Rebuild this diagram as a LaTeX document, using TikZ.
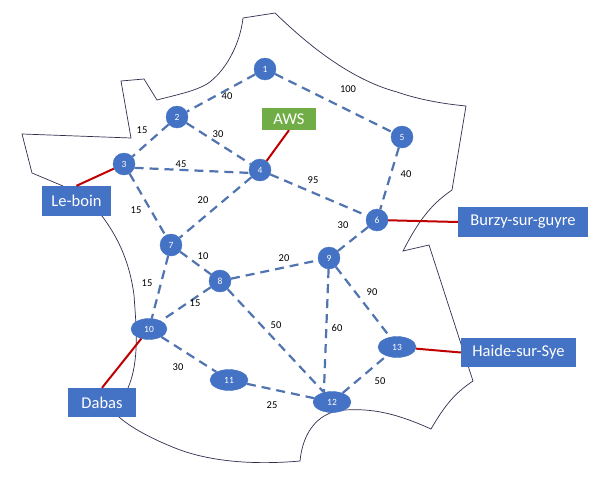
\documentclass[tikz,border=0pt]{standalone}
\usepackage{fontspec}
\setmainfont{Carlito}
\definecolor{nodeblue}{HTML}{4472C4}
\definecolor{edgeblue}{HTML}{4F74B0}
\definecolor{awsgreen}{HTML}{70AD47}
\definecolor{linkred}{HTML}{C00000}
\definecolor{outlinec}{HTML}{2F2F4F}
\tikzset{
  router/.style={circle,fill=nodeblue,draw=nodeblue,text=white,inner sep=0pt,minimum size=22pt,font=\fontsize{9.5}{10}\selectfont},
  routerwide/.style={ellipse,fill=nodeblue,draw=nodeblue,text=white,inner sep=0pt,minimum width=38pt,minimum height=21pt,font=\fontsize{9.5}{10}\selectfont},
  city/.style={rectangle,fill=nodeblue,text=white,inner sep=0pt,font=\fontsize{16.5}{18}\selectfont},
  awsbox/.style={rectangle,fill=awsgreen,text=white,inner sep=0pt,font=\fontsize{16.5}{18}\selectfont},
  link/.style={edgeblue,line width=2.2pt,dash pattern=on 9pt off 6pt},
  uplink/.style={linkred,line width=2pt},
  cost/.style={text=black,inner sep=0pt,font=\fontsize{10.5}{12}\selectfont},
  border/.style={outlinec,line width=0.7pt,line join=miter}
}
\usetikzlibrary{shapes.geometric}
\begin{document}
\begin{tikzpicture}[x=1pt,y=-1pt]
\useasboundingbox (0,0) rectangle (602,479);
\fill[white] (0,0) rectangle (602,479);
% outline
\draw[border] (243,18) -- (275,13)
  .. controls (300,37) and (345,78) .. (397,92)
  .. controls (420,100) and (445,104) .. (466,106)
  -- (452,190)
  .. controls (430,205) and (418,222) .. (403,251)
  -- (429,245) -- (473,381)
  .. controls (455,393) and (445,405) .. (431,429)
  .. controls (400,415) and (375,408) .. (345,410)
  .. controls (320,411) and (303,430) .. (300,461)
  .. controls (255,465) and (210,462) .. (175,448)
  .. controls (145,436) and (128,425) .. (119,417)
  -- (128,388)
  .. controls (140,360) and (136,325) .. (134,295)
  .. controls (130,265) and (120,240) .. (102,216)
  -- (63,186) -- (32,173) -- (22,134) -- (131,138) -- (121,81) -- (144,79) -- (157,100)
  .. controls (180,94) and (195,91) .. (207,84)
  .. controls (225,72) and (240,45) .. (243,18);
% routers
\node[router] (n1) at (265,69) {1};
\node[router] (n2) at (177,117) {2};
\node[router] (n3) at (124,164) {3};
\node[router] (n4) at (260,170) {4};
\node[router] (n5) at (402,137) {5};
\node[router] (n6) at (377,220) {6};
\node[router] (n7) at (171,245) {7};
\node[router] (n8) at (220,281) {8};
\node[router] (n9) at (329,258) {9};
\node[routerwide,minimum width=36pt] (n10) at (149,329) {10};
\node[routerwide] (n11) at (229,380) {11};
\node[routerwide] (n12) at (332,402) {12};
\node[routerwide] (n13) at (397,347) {13};
% cities
\node[city,minimum width=69pt,minimum height=30pt] (leboin) at (76.5,201) {Le-boin};
\node[city,minimum width=130pt,minimum height=30pt] (burzy) at (523,222) {Burzy-sur-guyre};
\node[city,minimum width=68pt,minimum height=29pt] (dabas) at (102,402.5) {Dabas};
\node[city,minimum width=115pt,minimum height=29pt] (haide) at (518.5,352.5) {Haide-sur-Sye};
\node[awsbox,minimum width=54pt,minimum height=22pt] (aws) at (289,119) {AWS};
% links
\foreach \a/\b in {n1/n2,n1/n5,n2/n3,n2/n4,n4/n7,n4/n6,n5/n6,n6/n9,n7/n8,n7/n10,n8/n9,n8/n10,n10/n11,n11/n12}
  \draw[link] (\a) -- (\b);
\draw[link] (n3.-20) -- (n4.195);
\draw[link] (n3) -- (n7);
\draw[link] (n8) -- (n12.130);
\draw[link] (n9) -- (n12.130);
\draw[link] (n9) -- (n13.125);
\draw[link] (n12) -- (n13);
\draw[uplink] (n3) -- (leboin.north);
\draw[uplink] (n4) -- (aws.south);
\draw[uplink] (n6) -- (burzy.west);
\draw[uplink] (n10) -- (dabas.north);
\draw[uplink] (n13) -- (haide.west);
% costs
\node[cost] (c1) at (227,96) {40};
\node[cost] (c2) at (142,130) {15};
\node[cost] (c3) at (218,134) {30};
\node[cost] (c4) at (181,164) {45};
\node[cost] (c5) at (136,210) {15};
\node[cost] (c6) at (203,200) {20};
\node[cost] (c7) at (348,89) {100};
\node[cost] (c8) at (313,180) {95};
\node[cost] (c9) at (406,174) {40};
\node[cost] (c10) at (343,225) {30};
\node[cost] (c11) at (203,256) {10};
\node[cost] (c12) at (284,258) {20};
\node[cost] (c13) at (147,283) {15};
\node[cost] (c14) at (195,303) {15};
\node[cost] (c15) at (276,325) {50};
\node[cost] (c16) at (337,328) {60};
\node[cost] (c17) at (372,292) {90};
\node[cost] (c18) at (178,367) {30};
\node[cost] (c19) at (272,405) {25};
\node[cost] (c20) at (380,381) {50};
\end{tikzpicture}
\end{document}
